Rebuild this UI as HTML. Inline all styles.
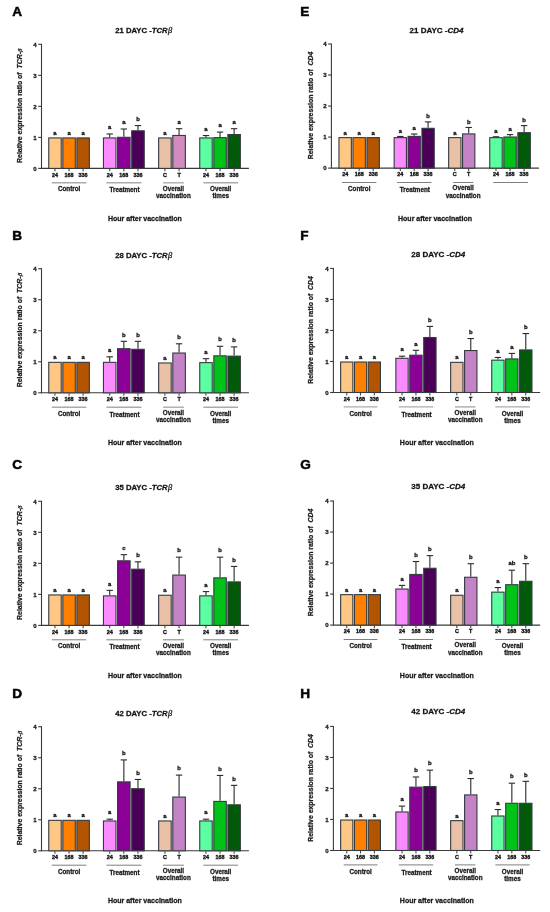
<!DOCTYPE html>
<html><head><meta charset="utf-8">
<style>
html,body{margin:0;padding:0;background:#fff;}
body{width:550px;height:912px;overflow:hidden;}
svg{display:block;font-family:"Liberation Sans", sans-serif;filter:blur(0.4px);}
text{stroke:#151515;stroke-width:0.27px;}
</style></head>
<body>
<svg width="550" height="912" viewBox="0 0 550 912">
<rect width="550" height="912" fill="#fff"/>
<text x="12.3" y="16" font-size="13.6" text-anchor="start" font-weight="bold" font-style="normal" fill="#000" style="stroke:#000;stroke-width:0.5px">A</text>
<text x="143.7" y="33.4" font-size="7.7" text-anchor="middle" font-weight="bold" fill="#111">21 DAYC -<tspan font-style="italic">TCR</tspan><tspan dx="0.4" font-family="Liberation Serif, serif" font-style="italic" font-weight="normal" font-size="8.4">&#946;</tspan></text>
<line x1="41.5" y1="43.82" x2="41.5" y2="168.9" stroke="#3a3a3a" stroke-width="1.1"/>
<line x1="38.2" y1="168.4" x2="41.5" y2="168.4" stroke="#3a3a3a" stroke-width="1.1"/>
<text x="36.7" y="170.6" font-size="6.1" text-anchor="end" font-weight="bold" font-style="normal" fill="#222">0</text>
<line x1="38.2" y1="137.38" x2="41.5" y2="137.38" stroke="#3a3a3a" stroke-width="1.1"/>
<text x="36.7" y="139.58" font-size="6.1" text-anchor="end" font-weight="bold" font-style="normal" fill="#222">1</text>
<line x1="38.2" y1="106.36" x2="41.5" y2="106.36" stroke="#3a3a3a" stroke-width="1.1"/>
<text x="36.7" y="108.56" font-size="6.1" text-anchor="end" font-weight="bold" font-style="normal" fill="#222">2</text>
<line x1="38.2" y1="75.34" x2="41.5" y2="75.34" stroke="#3a3a3a" stroke-width="1.1"/>
<text x="36.7" y="77.54" font-size="6.1" text-anchor="end" font-weight="bold" font-style="normal" fill="#222">3</text>
<line x1="38.2" y1="44.32" x2="41.5" y2="44.32" stroke="#3a3a3a" stroke-width="1.1"/>
<text x="36.7" y="46.52" font-size="6.1" text-anchor="end" font-weight="bold" font-style="normal" fill="#222">4</text>
<text transform="translate(22.4,105.7) rotate(-90)" x="0" y="0" font-size="6.95" text-anchor="middle" font-weight="bold" fill="#1e1e1e">Relative expression ratio of&#160; <tspan font-style="italic">TCR-</tspan><tspan font-family="Liberation Serif, serif" font-style="italic" font-weight="normal">&#946;</tspan></text>
<line x1="41.5" y1="168.4" x2="248.9" y2="168.4" stroke="#3a3a3a" stroke-width="1.1"/>
<rect x="48.75" y="137.93" width="12.47" height="30.47" fill="#FFC784" stroke="#333a40" stroke-width="1.1"/>
<text x="54.98" y="134.88" font-size="5.9" text-anchor="middle" font-weight="bold" font-style="normal" fill="#151515" style="stroke-width:0.3px">a</text>
<line x1="54.98" y1="169" x2="54.98" y2="171.3" stroke="#333" stroke-width="1"/>
<text x="54.98" y="176.6" font-size="5.4" text-anchor="middle" font-weight="bold" font-style="normal" fill="#111" style="stroke:#111;stroke-width:0.34px">24</text>
<rect x="62.82" y="137.93" width="12.47" height="30.47" fill="#FF8000" stroke="#333a40" stroke-width="1.1"/>
<text x="69.05" y="134.88" font-size="5.9" text-anchor="middle" font-weight="bold" font-style="normal" fill="#151515" style="stroke-width:0.3px">a</text>
<line x1="69.05" y1="169" x2="69.05" y2="171.3" stroke="#333" stroke-width="1"/>
<text x="69.05" y="176.6" font-size="5.4" text-anchor="middle" font-weight="bold" font-style="normal" fill="#111" style="stroke:#111;stroke-width:0.34px">168</text>
<rect x="76.88" y="137.93" width="12.47" height="30.47" fill="#B35400" stroke="#333a40" stroke-width="1.1"/>
<text x="83.12" y="134.88" font-size="5.9" text-anchor="middle" font-weight="bold" font-style="normal" fill="#151515" style="stroke-width:0.3px">a</text>
<line x1="83.12" y1="169" x2="83.12" y2="171.3" stroke="#333" stroke-width="1"/>
<text x="83.12" y="176.6" font-size="5.4" text-anchor="middle" font-weight="bold" font-style="normal" fill="#111" style="stroke:#111;stroke-width:0.34px">336</text>
<line x1="51.8" y1="182.8" x2="86.4" y2="182.8" stroke="#ababab" stroke-width="1.4"/>
<text x="69.1" y="191.4" font-size="6.3" text-anchor="middle" font-weight="bold" font-style="normal" fill="#222">Control</text>
<line x1="109.72" y1="137.38" x2="109.72" y2="133.97" stroke="#2a2a2a" stroke-width="1.1"/>
<line x1="106.52" y1="133.97" x2="112.92" y2="133.97" stroke="#2a2a2a" stroke-width="1.1"/>
<rect x="103.45" y="137.93" width="12.53" height="30.47" fill="#F98BFF" stroke="#333a40" stroke-width="1.1"/>
<text x="109.72" y="129.17" font-size="5.9" text-anchor="middle" font-weight="bold" font-style="normal" fill="#151515" style="stroke-width:0.3px">a</text>
<line x1="109.72" y1="169" x2="109.72" y2="171.3" stroke="#333" stroke-width="1"/>
<text x="109.72" y="176.6" font-size="5.4" text-anchor="middle" font-weight="bold" font-style="normal" fill="#111" style="stroke:#111;stroke-width:0.34px">24</text>
<line x1="123.85" y1="136.76" x2="123.85" y2="129" stroke="#2a2a2a" stroke-width="1.1"/>
<line x1="120.65" y1="129" x2="127.05" y2="129" stroke="#2a2a2a" stroke-width="1.1"/>
<rect x="117.58" y="137.31" width="12.53" height="31.09" fill="#8C0098" stroke="#333a40" stroke-width="1.1"/>
<text x="123.85" y="124.2" font-size="5.9" text-anchor="middle" font-weight="bold" font-style="normal" fill="#151515" style="stroke-width:0.3px">a</text>
<line x1="123.85" y1="169" x2="123.85" y2="171.3" stroke="#333" stroke-width="1"/>
<text x="123.85" y="176.6" font-size="5.4" text-anchor="middle" font-weight="bold" font-style="normal" fill="#111" style="stroke:#111;stroke-width:0.34px">168</text>
<line x1="137.98" y1="130.25" x2="137.98" y2="125.59" stroke="#2a2a2a" stroke-width="1.1"/>
<line x1="134.78" y1="125.59" x2="141.18" y2="125.59" stroke="#2a2a2a" stroke-width="1.1"/>
<rect x="131.72" y="130.8" width="12.53" height="37.6" fill="#4B0058" stroke="#333a40" stroke-width="1.1"/>
<text x="137.98" y="120.79" font-size="5.9" text-anchor="middle" font-weight="bold" font-style="normal" fill="#151515" style="stroke-width:0.3px">b</text>
<line x1="137.98" y1="169" x2="137.98" y2="171.3" stroke="#333" stroke-width="1"/>
<text x="137.98" y="176.6" font-size="5.4" text-anchor="middle" font-weight="bold" font-style="normal" fill="#111" style="stroke:#111;stroke-width:0.34px">336</text>
<line x1="106.4" y1="182.8" x2="141.4" y2="182.8" stroke="#ababab" stroke-width="1.4"/>
<text x="124.5" y="192.4" font-size="6.3" text-anchor="middle" font-weight="bold" font-style="normal" fill="#222">Treatment</text>
<rect x="158.65" y="137.93" width="12.55" height="30.47" fill="#E8C1A6" stroke="#333a40" stroke-width="1.1"/>
<text x="164.93" y="134.88" font-size="5.9" text-anchor="middle" font-weight="bold" font-style="normal" fill="#151515" style="stroke-width:0.3px">a</text>
<line x1="164.93" y1="169" x2="164.93" y2="171.3" stroke="#333" stroke-width="1"/>
<text x="164.93" y="176.6" font-size="5.4" text-anchor="middle" font-weight="bold" font-style="normal" fill="#111" style="stroke:#111;stroke-width:0.34px">C</text>
<line x1="179.07" y1="134.9" x2="179.07" y2="128.69" stroke="#2a2a2a" stroke-width="1.1"/>
<line x1="175.88" y1="128.69" x2="182.27" y2="128.69" stroke="#2a2a2a" stroke-width="1.1"/>
<rect x="172.8" y="135.45" width="12.55" height="32.95" fill="#D38ABF" stroke="#333a40" stroke-width="1.1"/>
<text x="179.07" y="123.89" font-size="5.9" text-anchor="middle" font-weight="bold" font-style="normal" fill="#151515" style="stroke-width:0.3px">a</text>
<line x1="179.07" y1="169" x2="179.07" y2="171.3" stroke="#333" stroke-width="1"/>
<text x="179.07" y="176.6" font-size="5.4" text-anchor="middle" font-weight="bold" font-style="normal" fill="#111" style="stroke:#111;stroke-width:0.34px">T</text>
<line x1="163" y1="182.8" x2="183.9" y2="182.8" stroke="#ababab" stroke-width="1.4"/>
<text x="173.45" y="190.6" font-size="6.3" text-anchor="middle" font-weight="bold" font-style="normal" fill="#222">Overall</text>
<text x="173.45" y="197.8" font-size="6.3" text-anchor="middle" font-weight="bold" font-style="normal" fill="#222">vaccination</text>
<line x1="205.98" y1="137.38" x2="205.98" y2="135.52" stroke="#2a2a2a" stroke-width="1.1"/>
<line x1="202.78" y1="135.52" x2="209.18" y2="135.52" stroke="#2a2a2a" stroke-width="1.1"/>
<rect x="199.75" y="137.93" width="12.47" height="30.47" fill="#5CFFA0" stroke="#333a40" stroke-width="1.1"/>
<text x="205.98" y="130.72" font-size="5.9" text-anchor="middle" font-weight="bold" font-style="normal" fill="#151515" style="stroke-width:0.3px">a</text>
<line x1="205.98" y1="169" x2="205.98" y2="171.3" stroke="#333" stroke-width="1"/>
<text x="205.98" y="176.6" font-size="5.4" text-anchor="middle" font-weight="bold" font-style="normal" fill="#111" style="stroke:#111;stroke-width:0.34px">24</text>
<line x1="220.05" y1="137.07" x2="220.05" y2="132.11" stroke="#2a2a2a" stroke-width="1.1"/>
<line x1="216.85" y1="132.11" x2="223.25" y2="132.11" stroke="#2a2a2a" stroke-width="1.1"/>
<rect x="213.82" y="137.62" width="12.47" height="30.78" fill="#00C218" stroke="#333a40" stroke-width="1.1"/>
<text x="220.05" y="127.31" font-size="5.9" text-anchor="middle" font-weight="bold" font-style="normal" fill="#151515" style="stroke-width:0.3px">a</text>
<line x1="220.05" y1="169" x2="220.05" y2="171.3" stroke="#333" stroke-width="1"/>
<text x="220.05" y="176.6" font-size="5.4" text-anchor="middle" font-weight="bold" font-style="normal" fill="#111" style="stroke:#111;stroke-width:0.34px">168</text>
<line x1="234.12" y1="133.97" x2="234.12" y2="128.69" stroke="#2a2a2a" stroke-width="1.1"/>
<line x1="230.92" y1="128.69" x2="237.32" y2="128.69" stroke="#2a2a2a" stroke-width="1.1"/>
<rect x="227.88" y="134.52" width="12.47" height="33.88" fill="#005A0A" stroke="#333a40" stroke-width="1.1"/>
<text x="234.12" y="123.89" font-size="5.9" text-anchor="middle" font-weight="bold" font-style="normal" fill="#151515" style="stroke-width:0.3px">a</text>
<line x1="234.12" y1="169" x2="234.12" y2="171.3" stroke="#333" stroke-width="1"/>
<text x="234.12" y="176.6" font-size="5.4" text-anchor="middle" font-weight="bold" font-style="normal" fill="#111" style="stroke:#111;stroke-width:0.34px">336</text>
<line x1="203.3" y1="182.8" x2="238.1" y2="182.8" stroke="#ababab" stroke-width="1.4"/>
<text x="220.7" y="191.4" font-size="6.3" text-anchor="middle" font-weight="bold" font-style="normal" fill="#222">Overall</text>
<text x="220.7" y="198.4" font-size="6.3" text-anchor="middle" font-weight="bold" font-style="normal" fill="#222">times</text>
<text x="144.9" y="221" font-size="7" text-anchor="middle" font-weight="bold" font-style="normal" fill="#1a1a1a">Hour after vaccination</text>
<text x="12.3" y="240.2" font-size="13.6" text-anchor="start" font-weight="bold" font-style="normal" fill="#000" style="stroke:#000;stroke-width:0.5px">B</text>
<text x="143.7" y="257.8" font-size="7.7" text-anchor="middle" font-weight="bold" fill="#111">28 DAYC -<tspan font-style="italic">TCR</tspan><tspan dx="0.4" font-family="Liberation Serif, serif" font-style="italic" font-weight="normal" font-size="8.4">&#946;</tspan></text>
<line x1="41.5" y1="268.22" x2="41.5" y2="393.3" stroke="#3a3a3a" stroke-width="1.1"/>
<line x1="38.2" y1="392.8" x2="41.5" y2="392.8" stroke="#3a3a3a" stroke-width="1.1"/>
<text x="36.7" y="395" font-size="6.1" text-anchor="end" font-weight="bold" font-style="normal" fill="#222">0</text>
<line x1="38.2" y1="361.78" x2="41.5" y2="361.78" stroke="#3a3a3a" stroke-width="1.1"/>
<text x="36.7" y="363.98" font-size="6.1" text-anchor="end" font-weight="bold" font-style="normal" fill="#222">1</text>
<line x1="38.2" y1="330.76" x2="41.5" y2="330.76" stroke="#3a3a3a" stroke-width="1.1"/>
<text x="36.7" y="332.96" font-size="6.1" text-anchor="end" font-weight="bold" font-style="normal" fill="#222">2</text>
<line x1="38.2" y1="299.74" x2="41.5" y2="299.74" stroke="#3a3a3a" stroke-width="1.1"/>
<text x="36.7" y="301.94" font-size="6.1" text-anchor="end" font-weight="bold" font-style="normal" fill="#222">3</text>
<line x1="38.2" y1="268.72" x2="41.5" y2="268.72" stroke="#3a3a3a" stroke-width="1.1"/>
<text x="36.7" y="270.92" font-size="6.1" text-anchor="end" font-weight="bold" font-style="normal" fill="#222">4</text>
<text transform="translate(22.4,330.1) rotate(-90)" x="0" y="0" font-size="6.95" text-anchor="middle" font-weight="bold" fill="#1e1e1e">Relative expression ratio of&#160; <tspan font-style="italic">TCR-</tspan><tspan font-family="Liberation Serif, serif" font-style="italic" font-weight="normal">&#946;</tspan></text>
<line x1="41.5" y1="392.8" x2="248.9" y2="392.8" stroke="#3a3a3a" stroke-width="1.1"/>
<rect x="48.75" y="362.33" width="12.47" height="30.47" fill="#FFC784" stroke="#333a40" stroke-width="1.1"/>
<text x="54.98" y="359.28" font-size="5.9" text-anchor="middle" font-weight="bold" font-style="normal" fill="#151515" style="stroke-width:0.3px">a</text>
<line x1="54.98" y1="393.4" x2="54.98" y2="395.7" stroke="#333" stroke-width="1"/>
<text x="54.98" y="401" font-size="5.4" text-anchor="middle" font-weight="bold" font-style="normal" fill="#111" style="stroke:#111;stroke-width:0.34px">24</text>
<rect x="62.82" y="362.33" width="12.47" height="30.47" fill="#FF8000" stroke="#333a40" stroke-width="1.1"/>
<text x="69.05" y="359.28" font-size="5.9" text-anchor="middle" font-weight="bold" font-style="normal" fill="#151515" style="stroke-width:0.3px">a</text>
<line x1="69.05" y1="393.4" x2="69.05" y2="395.7" stroke="#333" stroke-width="1"/>
<text x="69.05" y="401" font-size="5.4" text-anchor="middle" font-weight="bold" font-style="normal" fill="#111" style="stroke:#111;stroke-width:0.34px">168</text>
<rect x="76.88" y="362.33" width="12.47" height="30.47" fill="#B35400" stroke="#333a40" stroke-width="1.1"/>
<text x="83.12" y="359.28" font-size="5.9" text-anchor="middle" font-weight="bold" font-style="normal" fill="#151515" style="stroke-width:0.3px">a</text>
<line x1="83.12" y1="393.4" x2="83.12" y2="395.7" stroke="#333" stroke-width="1"/>
<text x="83.12" y="401" font-size="5.4" text-anchor="middle" font-weight="bold" font-style="normal" fill="#111" style="stroke:#111;stroke-width:0.34px">336</text>
<line x1="51.8" y1="407.2" x2="86.4" y2="407.2" stroke="#ababab" stroke-width="1.4"/>
<text x="69.1" y="415.8" font-size="6.3" text-anchor="middle" font-weight="bold" font-style="normal" fill="#222">Control</text>
<line x1="109.72" y1="361.78" x2="109.72" y2="356.82" stroke="#2a2a2a" stroke-width="1.1"/>
<line x1="106.52" y1="356.82" x2="112.92" y2="356.82" stroke="#2a2a2a" stroke-width="1.1"/>
<rect x="103.45" y="362.33" width="12.53" height="30.47" fill="#F98BFF" stroke="#333a40" stroke-width="1.1"/>
<text x="109.72" y="352.02" font-size="5.9" text-anchor="middle" font-weight="bold" font-style="normal" fill="#151515" style="stroke-width:0.3px">a</text>
<line x1="109.72" y1="393.4" x2="109.72" y2="395.7" stroke="#333" stroke-width="1"/>
<text x="109.72" y="401" font-size="5.4" text-anchor="middle" font-weight="bold" font-style="normal" fill="#111" style="stroke:#111;stroke-width:0.34px">24</text>
<line x1="123.85" y1="348.13" x2="123.85" y2="341.31" stroke="#2a2a2a" stroke-width="1.1"/>
<line x1="120.65" y1="341.31" x2="127.05" y2="341.31" stroke="#2a2a2a" stroke-width="1.1"/>
<rect x="117.58" y="348.68" width="12.53" height="44.12" fill="#8C0098" stroke="#333a40" stroke-width="1.1"/>
<text x="123.85" y="336.51" font-size="5.9" text-anchor="middle" font-weight="bold" font-style="normal" fill="#151515" style="stroke-width:0.3px">b</text>
<line x1="123.85" y1="393.4" x2="123.85" y2="395.7" stroke="#333" stroke-width="1"/>
<text x="123.85" y="401" font-size="5.4" text-anchor="middle" font-weight="bold" font-style="normal" fill="#111" style="stroke:#111;stroke-width:0.34px">168</text>
<line x1="137.98" y1="348.75" x2="137.98" y2="341.31" stroke="#2a2a2a" stroke-width="1.1"/>
<line x1="134.78" y1="341.31" x2="141.18" y2="341.31" stroke="#2a2a2a" stroke-width="1.1"/>
<rect x="131.72" y="349.3" width="12.53" height="43.5" fill="#4B0058" stroke="#333a40" stroke-width="1.1"/>
<text x="137.98" y="336.51" font-size="5.9" text-anchor="middle" font-weight="bold" font-style="normal" fill="#151515" style="stroke-width:0.3px">b</text>
<line x1="137.98" y1="393.4" x2="137.98" y2="395.7" stroke="#333" stroke-width="1"/>
<text x="137.98" y="401" font-size="5.4" text-anchor="middle" font-weight="bold" font-style="normal" fill="#111" style="stroke:#111;stroke-width:0.34px">336</text>
<line x1="106.4" y1="407.2" x2="141.4" y2="407.2" stroke="#ababab" stroke-width="1.4"/>
<text x="124.5" y="416.8" font-size="6.3" text-anchor="middle" font-weight="bold" font-style="normal" fill="#222">Treatment</text>
<rect x="158.65" y="362.95" width="12.55" height="29.85" fill="#E8C1A6" stroke="#333a40" stroke-width="1.1"/>
<text x="164.93" y="359.9" font-size="5.9" text-anchor="middle" font-weight="bold" font-style="normal" fill="#151515" style="stroke-width:0.3px">a</text>
<line x1="164.93" y1="393.4" x2="164.93" y2="395.7" stroke="#333" stroke-width="1"/>
<text x="164.93" y="401" font-size="5.4" text-anchor="middle" font-weight="bold" font-style="normal" fill="#111" style="stroke:#111;stroke-width:0.34px">C</text>
<line x1="179.07" y1="352.47" x2="179.07" y2="343.79" stroke="#2a2a2a" stroke-width="1.1"/>
<line x1="175.88" y1="343.79" x2="182.27" y2="343.79" stroke="#2a2a2a" stroke-width="1.1"/>
<rect x="172.8" y="353.02" width="12.55" height="39.78" fill="#C383C6" stroke="#333a40" stroke-width="1.1"/>
<text x="179.07" y="338.99" font-size="5.9" text-anchor="middle" font-weight="bold" font-style="normal" fill="#151515" style="stroke-width:0.3px">b</text>
<line x1="179.07" y1="393.4" x2="179.07" y2="395.7" stroke="#333" stroke-width="1"/>
<text x="179.07" y="401" font-size="5.4" text-anchor="middle" font-weight="bold" font-style="normal" fill="#111" style="stroke:#111;stroke-width:0.34px">T</text>
<line x1="163" y1="407.2" x2="183.9" y2="407.2" stroke="#ababab" stroke-width="1.4"/>
<text x="173.45" y="415" font-size="6.3" text-anchor="middle" font-weight="bold" font-style="normal" fill="#222">Overall</text>
<text x="173.45" y="422.2" font-size="6.3" text-anchor="middle" font-weight="bold" font-style="normal" fill="#222">vaccination</text>
<line x1="205.98" y1="362.09" x2="205.98" y2="358.68" stroke="#2a2a2a" stroke-width="1.1"/>
<line x1="202.78" y1="358.68" x2="209.18" y2="358.68" stroke="#2a2a2a" stroke-width="1.1"/>
<rect x="199.75" y="362.64" width="12.47" height="30.16" fill="#5CFFA0" stroke="#333a40" stroke-width="1.1"/>
<text x="205.98" y="353.88" font-size="5.9" text-anchor="middle" font-weight="bold" font-style="normal" fill="#151515" style="stroke-width:0.3px">a</text>
<line x1="205.98" y1="393.4" x2="205.98" y2="395.7" stroke="#333" stroke-width="1"/>
<text x="205.98" y="401" font-size="5.4" text-anchor="middle" font-weight="bold" font-style="normal" fill="#111" style="stroke:#111;stroke-width:0.34px">24</text>
<line x1="220.05" y1="355.27" x2="220.05" y2="346.27" stroke="#2a2a2a" stroke-width="1.1"/>
<line x1="216.85" y1="346.27" x2="223.25" y2="346.27" stroke="#2a2a2a" stroke-width="1.1"/>
<rect x="213.82" y="355.82" width="12.47" height="36.98" fill="#00C218" stroke="#333a40" stroke-width="1.1"/>
<text x="220.05" y="341.47" font-size="5.9" text-anchor="middle" font-weight="bold" font-style="normal" fill="#151515" style="stroke-width:0.3px">b</text>
<line x1="220.05" y1="393.4" x2="220.05" y2="395.7" stroke="#333" stroke-width="1"/>
<text x="220.05" y="401" font-size="5.4" text-anchor="middle" font-weight="bold" font-style="normal" fill="#111" style="stroke:#111;stroke-width:0.34px">168</text>
<line x1="234.12" y1="355.58" x2="234.12" y2="346.89" stroke="#2a2a2a" stroke-width="1.1"/>
<line x1="230.92" y1="346.89" x2="237.32" y2="346.89" stroke="#2a2a2a" stroke-width="1.1"/>
<rect x="227.88" y="356.13" width="12.47" height="36.67" fill="#005A0A" stroke="#333a40" stroke-width="1.1"/>
<text x="234.12" y="342.09" font-size="5.9" text-anchor="middle" font-weight="bold" font-style="normal" fill="#151515" style="stroke-width:0.3px">b</text>
<line x1="234.12" y1="393.4" x2="234.12" y2="395.7" stroke="#333" stroke-width="1"/>
<text x="234.12" y="401" font-size="5.4" text-anchor="middle" font-weight="bold" font-style="normal" fill="#111" style="stroke:#111;stroke-width:0.34px">336</text>
<line x1="203.3" y1="407.2" x2="238.1" y2="407.2" stroke="#ababab" stroke-width="1.4"/>
<text x="220.7" y="415.8" font-size="6.3" text-anchor="middle" font-weight="bold" font-style="normal" fill="#222">Overall</text>
<text x="220.7" y="422.8" font-size="6.3" text-anchor="middle" font-weight="bold" font-style="normal" fill="#222">times</text>
<text x="144.9" y="445.4" font-size="7" text-anchor="middle" font-weight="bold" font-style="normal" fill="#1a1a1a">Hour after vaccination</text>
<text x="12.3" y="468.7" font-size="13.6" text-anchor="start" font-weight="bold" font-style="normal" fill="#000" style="stroke:#000;stroke-width:0.5px">C</text>
<text x="143.7" y="490.4" font-size="7.7" text-anchor="middle" font-weight="bold" fill="#111">35 DAYC -<tspan font-style="italic">TCR</tspan><tspan dx="0.4" font-family="Liberation Serif, serif" font-style="italic" font-weight="normal" font-size="8.4">&#946;</tspan></text>
<line x1="41.5" y1="500.82" x2="41.5" y2="625.9" stroke="#3a3a3a" stroke-width="1.1"/>
<line x1="38.2" y1="625.4" x2="41.5" y2="625.4" stroke="#3a3a3a" stroke-width="1.1"/>
<text x="36.7" y="627.6" font-size="6.1" text-anchor="end" font-weight="bold" font-style="normal" fill="#222">0</text>
<line x1="38.2" y1="594.38" x2="41.5" y2="594.38" stroke="#3a3a3a" stroke-width="1.1"/>
<text x="36.7" y="596.58" font-size="6.1" text-anchor="end" font-weight="bold" font-style="normal" fill="#222">1</text>
<line x1="38.2" y1="563.36" x2="41.5" y2="563.36" stroke="#3a3a3a" stroke-width="1.1"/>
<text x="36.7" y="565.56" font-size="6.1" text-anchor="end" font-weight="bold" font-style="normal" fill="#222">2</text>
<line x1="38.2" y1="532.34" x2="41.5" y2="532.34" stroke="#3a3a3a" stroke-width="1.1"/>
<text x="36.7" y="534.54" font-size="6.1" text-anchor="end" font-weight="bold" font-style="normal" fill="#222">3</text>
<line x1="38.2" y1="501.32" x2="41.5" y2="501.32" stroke="#3a3a3a" stroke-width="1.1"/>
<text x="36.7" y="503.52" font-size="6.1" text-anchor="end" font-weight="bold" font-style="normal" fill="#222">4</text>
<text transform="translate(22.4,562.7) rotate(-90)" x="0" y="0" font-size="6.95" text-anchor="middle" font-weight="bold" fill="#1e1e1e">Relative expression ratio of&#160; <tspan font-style="italic">TCR-</tspan><tspan font-family="Liberation Serif, serif" font-style="italic" font-weight="normal">&#946;</tspan></text>
<line x1="41.5" y1="625.4" x2="248.9" y2="625.4" stroke="#3a3a3a" stroke-width="1.1"/>
<rect x="48.75" y="594.93" width="12.47" height="30.47" fill="#FFC784" stroke="#333a40" stroke-width="1.1"/>
<text x="54.98" y="591.88" font-size="5.9" text-anchor="middle" font-weight="bold" font-style="normal" fill="#151515" style="stroke-width:0.3px">a</text>
<line x1="54.98" y1="626" x2="54.98" y2="628.3" stroke="#333" stroke-width="1"/>
<text x="54.98" y="633.6" font-size="5.4" text-anchor="middle" font-weight="bold" font-style="normal" fill="#111" style="stroke:#111;stroke-width:0.34px">24</text>
<rect x="62.82" y="594.93" width="12.47" height="30.47" fill="#FF8000" stroke="#333a40" stroke-width="1.1"/>
<text x="69.05" y="591.88" font-size="5.9" text-anchor="middle" font-weight="bold" font-style="normal" fill="#151515" style="stroke-width:0.3px">a</text>
<line x1="69.05" y1="626" x2="69.05" y2="628.3" stroke="#333" stroke-width="1"/>
<text x="69.05" y="633.6" font-size="5.4" text-anchor="middle" font-weight="bold" font-style="normal" fill="#111" style="stroke:#111;stroke-width:0.34px">168</text>
<rect x="76.88" y="594.93" width="12.47" height="30.47" fill="#B35400" stroke="#333a40" stroke-width="1.1"/>
<text x="83.12" y="591.88" font-size="5.9" text-anchor="middle" font-weight="bold" font-style="normal" fill="#151515" style="stroke-width:0.3px">a</text>
<line x1="83.12" y1="626" x2="83.12" y2="628.3" stroke="#333" stroke-width="1"/>
<text x="83.12" y="633.6" font-size="5.4" text-anchor="middle" font-weight="bold" font-style="normal" fill="#111" style="stroke:#111;stroke-width:0.34px">336</text>
<line x1="51.8" y1="639.8" x2="86.4" y2="639.8" stroke="#707070" stroke-width="0.9"/>
<text x="69.1" y="648.4" font-size="6.3" text-anchor="middle" font-weight="bold" font-style="normal" fill="#222">Control</text>
<line x1="109.72" y1="595.31" x2="109.72" y2="590.35" stroke="#2a2a2a" stroke-width="1.1"/>
<line x1="106.52" y1="590.35" x2="112.92" y2="590.35" stroke="#2a2a2a" stroke-width="1.1"/>
<rect x="103.45" y="595.86" width="12.53" height="29.54" fill="#F98BFF" stroke="#333a40" stroke-width="1.1"/>
<text x="109.72" y="585.55" font-size="5.9" text-anchor="middle" font-weight="bold" font-style="normal" fill="#151515" style="stroke-width:0.3px">a</text>
<line x1="109.72" y1="626" x2="109.72" y2="628.3" stroke="#333" stroke-width="1"/>
<text x="109.72" y="633.6" font-size="5.4" text-anchor="middle" font-weight="bold" font-style="normal" fill="#111" style="stroke:#111;stroke-width:0.34px">24</text>
<line x1="123.85" y1="560.26" x2="123.85" y2="554.67" stroke="#2a2a2a" stroke-width="1.1"/>
<line x1="120.65" y1="554.67" x2="127.05" y2="554.67" stroke="#2a2a2a" stroke-width="1.1"/>
<rect x="117.58" y="560.81" width="12.53" height="64.59" fill="#8C0098" stroke="#333a40" stroke-width="1.1"/>
<text x="123.85" y="549.87" font-size="5.9" text-anchor="middle" font-weight="bold" font-style="normal" fill="#151515" style="stroke-width:0.3px">c</text>
<line x1="123.85" y1="626" x2="123.85" y2="628.3" stroke="#333" stroke-width="1"/>
<text x="123.85" y="633.6" font-size="5.4" text-anchor="middle" font-weight="bold" font-style="normal" fill="#111" style="stroke:#111;stroke-width:0.34px">168</text>
<line x1="137.98" y1="568.63" x2="137.98" y2="561.81" stroke="#2a2a2a" stroke-width="1.1"/>
<line x1="134.78" y1="561.81" x2="141.18" y2="561.81" stroke="#2a2a2a" stroke-width="1.1"/>
<rect x="131.72" y="569.18" width="12.53" height="56.22" fill="#4B0058" stroke="#333a40" stroke-width="1.1"/>
<text x="137.98" y="557.01" font-size="5.9" text-anchor="middle" font-weight="bold" font-style="normal" fill="#151515" style="stroke-width:0.3px">b</text>
<line x1="137.98" y1="626" x2="137.98" y2="628.3" stroke="#333" stroke-width="1"/>
<text x="137.98" y="633.6" font-size="5.4" text-anchor="middle" font-weight="bold" font-style="normal" fill="#111" style="stroke:#111;stroke-width:0.34px">336</text>
<line x1="106.4" y1="639.8" x2="141.4" y2="639.8" stroke="#707070" stroke-width="0.9"/>
<text x="124.5" y="649.4" font-size="6.3" text-anchor="middle" font-weight="bold" font-style="normal" fill="#222">Treatment</text>
<rect x="158.65" y="595.24" width="12.55" height="30.16" fill="#E8C1A6" stroke="#333a40" stroke-width="1.1"/>
<text x="164.93" y="592.19" font-size="5.9" text-anchor="middle" font-weight="bold" font-style="normal" fill="#151515" style="stroke-width:0.3px">a</text>
<line x1="164.93" y1="626" x2="164.93" y2="628.3" stroke="#333" stroke-width="1"/>
<text x="164.93" y="633.6" font-size="5.4" text-anchor="middle" font-weight="bold" font-style="normal" fill="#111" style="stroke:#111;stroke-width:0.34px">C</text>
<line x1="179.07" y1="574.53" x2="179.07" y2="557.16" stroke="#2a2a2a" stroke-width="1.1"/>
<line x1="175.88" y1="557.16" x2="182.27" y2="557.16" stroke="#2a2a2a" stroke-width="1.1"/>
<rect x="172.8" y="575.08" width="12.55" height="50.32" fill="#C383C6" stroke="#333a40" stroke-width="1.1"/>
<text x="179.07" y="552.36" font-size="5.9" text-anchor="middle" font-weight="bold" font-style="normal" fill="#151515" style="stroke-width:0.3px">b</text>
<line x1="179.07" y1="626" x2="179.07" y2="628.3" stroke="#333" stroke-width="1"/>
<text x="179.07" y="633.6" font-size="5.4" text-anchor="middle" font-weight="bold" font-style="normal" fill="#111" style="stroke:#111;stroke-width:0.34px">T</text>
<line x1="163" y1="639.8" x2="183.9" y2="639.8" stroke="#707070" stroke-width="0.9"/>
<text x="173.45" y="647.6" font-size="6.3" text-anchor="middle" font-weight="bold" font-style="normal" fill="#222">Overall</text>
<text x="173.45" y="654.8" font-size="6.3" text-anchor="middle" font-weight="bold" font-style="normal" fill="#222">vaccination</text>
<line x1="205.98" y1="595.31" x2="205.98" y2="591.59" stroke="#2a2a2a" stroke-width="1.1"/>
<line x1="202.78" y1="591.59" x2="209.18" y2="591.59" stroke="#2a2a2a" stroke-width="1.1"/>
<rect x="199.75" y="595.86" width="12.47" height="29.54" fill="#5CFFA0" stroke="#333a40" stroke-width="1.1"/>
<text x="205.98" y="586.79" font-size="5.9" text-anchor="middle" font-weight="bold" font-style="normal" fill="#151515" style="stroke-width:0.3px">a</text>
<line x1="205.98" y1="626" x2="205.98" y2="628.3" stroke="#333" stroke-width="1"/>
<text x="205.98" y="633.6" font-size="5.4" text-anchor="middle" font-weight="bold" font-style="normal" fill="#111" style="stroke:#111;stroke-width:0.34px">24</text>
<line x1="220.05" y1="577.32" x2="220.05" y2="557.16" stroke="#2a2a2a" stroke-width="1.1"/>
<line x1="216.85" y1="557.16" x2="223.25" y2="557.16" stroke="#2a2a2a" stroke-width="1.1"/>
<rect x="213.82" y="577.87" width="12.47" height="47.53" fill="#00C218" stroke="#333a40" stroke-width="1.1"/>
<text x="220.05" y="552.36" font-size="5.9" text-anchor="middle" font-weight="bold" font-style="normal" fill="#151515" style="stroke-width:0.3px">b</text>
<line x1="220.05" y1="626" x2="220.05" y2="628.3" stroke="#333" stroke-width="1"/>
<text x="220.05" y="633.6" font-size="5.4" text-anchor="middle" font-weight="bold" font-style="normal" fill="#111" style="stroke:#111;stroke-width:0.34px">168</text>
<line x1="234.12" y1="581.35" x2="234.12" y2="566.46" stroke="#2a2a2a" stroke-width="1.1"/>
<line x1="230.92" y1="566.46" x2="237.32" y2="566.46" stroke="#2a2a2a" stroke-width="1.1"/>
<rect x="227.88" y="581.9" width="12.47" height="43.5" fill="#005A0A" stroke="#333a40" stroke-width="1.1"/>
<text x="234.12" y="561.66" font-size="5.9" text-anchor="middle" font-weight="bold" font-style="normal" fill="#151515" style="stroke-width:0.3px">b</text>
<line x1="234.12" y1="626" x2="234.12" y2="628.3" stroke="#333" stroke-width="1"/>
<text x="234.12" y="633.6" font-size="5.4" text-anchor="middle" font-weight="bold" font-style="normal" fill="#111" style="stroke:#111;stroke-width:0.34px">336</text>
<line x1="203.3" y1="639.8" x2="238.1" y2="639.8" stroke="#707070" stroke-width="0.9"/>
<text x="220.7" y="648.4" font-size="6.3" text-anchor="middle" font-weight="bold" font-style="normal" fill="#222">Overall</text>
<text x="220.7" y="655.4" font-size="6.3" text-anchor="middle" font-weight="bold" font-style="normal" fill="#222">times</text>
<text x="144.9" y="678" font-size="7" text-anchor="middle" font-weight="bold" font-style="normal" fill="#1a1a1a">Hour after vaccination</text>
<text x="12.3" y="698.4" font-size="13.6" text-anchor="start" font-weight="bold" font-style="normal" fill="#000" style="stroke:#000;stroke-width:0.5px">D</text>
<text x="143.7" y="715.8" font-size="7.7" text-anchor="middle" font-weight="bold" fill="#111">42 DAYC -<tspan font-style="italic">TCR</tspan><tspan dx="0.4" font-family="Liberation Serif, serif" font-style="italic" font-weight="normal" font-size="8.4">&#946;</tspan></text>
<line x1="41.5" y1="726.22" x2="41.5" y2="851.3" stroke="#3a3a3a" stroke-width="1.1"/>
<line x1="38.2" y1="850.8" x2="41.5" y2="850.8" stroke="#3a3a3a" stroke-width="1.1"/>
<text x="36.7" y="853" font-size="6.1" text-anchor="end" font-weight="bold" font-style="normal" fill="#222">0</text>
<line x1="38.2" y1="819.78" x2="41.5" y2="819.78" stroke="#3a3a3a" stroke-width="1.1"/>
<text x="36.7" y="821.98" font-size="6.1" text-anchor="end" font-weight="bold" font-style="normal" fill="#222">1</text>
<line x1="38.2" y1="788.76" x2="41.5" y2="788.76" stroke="#3a3a3a" stroke-width="1.1"/>
<text x="36.7" y="790.96" font-size="6.1" text-anchor="end" font-weight="bold" font-style="normal" fill="#222">2</text>
<line x1="38.2" y1="757.74" x2="41.5" y2="757.74" stroke="#3a3a3a" stroke-width="1.1"/>
<text x="36.7" y="759.94" font-size="6.1" text-anchor="end" font-weight="bold" font-style="normal" fill="#222">3</text>
<line x1="38.2" y1="726.72" x2="41.5" y2="726.72" stroke="#3a3a3a" stroke-width="1.1"/>
<text x="36.7" y="728.92" font-size="6.1" text-anchor="end" font-weight="bold" font-style="normal" fill="#222">4</text>
<text transform="translate(22.4,788.1) rotate(-90)" x="0" y="0" font-size="6.95" text-anchor="middle" font-weight="bold" fill="#1e1e1e">Relative expression ratio of&#160; <tspan font-style="italic">TCR-</tspan><tspan font-family="Liberation Serif, serif" font-style="italic" font-weight="normal">&#946;</tspan></text>
<line x1="41.5" y1="850.8" x2="248.9" y2="850.8" stroke="#3a3a3a" stroke-width="1.1"/>
<rect x="48.75" y="820.33" width="12.47" height="30.47" fill="#FFC784" stroke="#333a40" stroke-width="1.1"/>
<text x="54.98" y="817.28" font-size="5.9" text-anchor="middle" font-weight="bold" font-style="normal" fill="#151515" style="stroke-width:0.3px">a</text>
<line x1="54.98" y1="851.4" x2="54.98" y2="853.7" stroke="#333" stroke-width="1"/>
<text x="54.98" y="859" font-size="5.4" text-anchor="middle" font-weight="bold" font-style="normal" fill="#111" style="stroke:#111;stroke-width:0.34px">24</text>
<rect x="62.82" y="820.33" width="12.47" height="30.47" fill="#FF8000" stroke="#333a40" stroke-width="1.1"/>
<text x="69.05" y="817.28" font-size="5.9" text-anchor="middle" font-weight="bold" font-style="normal" fill="#151515" style="stroke-width:0.3px">a</text>
<line x1="69.05" y1="851.4" x2="69.05" y2="853.7" stroke="#333" stroke-width="1"/>
<text x="69.05" y="859" font-size="5.4" text-anchor="middle" font-weight="bold" font-style="normal" fill="#111" style="stroke:#111;stroke-width:0.34px">168</text>
<rect x="76.88" y="820.33" width="12.47" height="30.47" fill="#B35400" stroke="#333a40" stroke-width="1.1"/>
<text x="83.12" y="817.28" font-size="5.9" text-anchor="middle" font-weight="bold" font-style="normal" fill="#151515" style="stroke-width:0.3px">a</text>
<line x1="83.12" y1="851.4" x2="83.12" y2="853.7" stroke="#333" stroke-width="1"/>
<text x="83.12" y="859" font-size="5.4" text-anchor="middle" font-weight="bold" font-style="normal" fill="#111" style="stroke:#111;stroke-width:0.34px">336</text>
<line x1="51.8" y1="865.2" x2="86.4" y2="865.2" stroke="#707070" stroke-width="0.9"/>
<text x="69.1" y="873.8" font-size="6.3" text-anchor="middle" font-weight="bold" font-style="normal" fill="#222">Control</text>
<line x1="109.72" y1="820.4" x2="109.72" y2="819.16" stroke="#2a2a2a" stroke-width="1.1"/>
<line x1="106.52" y1="819.16" x2="112.92" y2="819.16" stroke="#2a2a2a" stroke-width="1.1"/>
<rect x="103.45" y="820.95" width="12.53" height="29.85" fill="#F98BFF" stroke="#333a40" stroke-width="1.1"/>
<text x="109.72" y="814.36" font-size="5.9" text-anchor="middle" font-weight="bold" font-style="normal" fill="#151515" style="stroke-width:0.3px">a</text>
<line x1="109.72" y1="851.4" x2="109.72" y2="853.7" stroke="#333" stroke-width="1"/>
<text x="109.72" y="859" font-size="5.4" text-anchor="middle" font-weight="bold" font-style="normal" fill="#111" style="stroke:#111;stroke-width:0.34px">24</text>
<line x1="123.85" y1="781.32" x2="123.85" y2="759.91" stroke="#2a2a2a" stroke-width="1.1"/>
<line x1="120.65" y1="759.91" x2="127.05" y2="759.91" stroke="#2a2a2a" stroke-width="1.1"/>
<rect x="117.58" y="781.87" width="12.53" height="68.93" fill="#8C0098" stroke="#333a40" stroke-width="1.1"/>
<text x="123.85" y="755.11" font-size="5.9" text-anchor="middle" font-weight="bold" font-style="normal" fill="#151515" style="stroke-width:0.3px">b</text>
<line x1="123.85" y1="851.4" x2="123.85" y2="853.7" stroke="#333" stroke-width="1"/>
<text x="123.85" y="859" font-size="5.4" text-anchor="middle" font-weight="bold" font-style="normal" fill="#111" style="stroke:#111;stroke-width:0.34px">168</text>
<line x1="137.98" y1="788.14" x2="137.98" y2="779.45" stroke="#2a2a2a" stroke-width="1.1"/>
<line x1="134.78" y1="779.45" x2="141.18" y2="779.45" stroke="#2a2a2a" stroke-width="1.1"/>
<rect x="131.72" y="788.69" width="12.53" height="62.11" fill="#4B0058" stroke="#333a40" stroke-width="1.1"/>
<text x="137.98" y="774.65" font-size="5.9" text-anchor="middle" font-weight="bold" font-style="normal" fill="#151515" style="stroke-width:0.3px">b</text>
<line x1="137.98" y1="851.4" x2="137.98" y2="853.7" stroke="#333" stroke-width="1"/>
<text x="137.98" y="859" font-size="5.4" text-anchor="middle" font-weight="bold" font-style="normal" fill="#111" style="stroke:#111;stroke-width:0.34px">336</text>
<line x1="106.4" y1="865.2" x2="141.4" y2="865.2" stroke="#707070" stroke-width="0.9"/>
<text x="124.5" y="874.8" font-size="6.3" text-anchor="middle" font-weight="bold" font-style="normal" fill="#222">Treatment</text>
<rect x="158.65" y="820.95" width="12.55" height="29.85" fill="#E8C1A6" stroke="#333a40" stroke-width="1.1"/>
<text x="164.93" y="817.9" font-size="5.9" text-anchor="middle" font-weight="bold" font-style="normal" fill="#151515" style="stroke-width:0.3px">a</text>
<line x1="164.93" y1="851.4" x2="164.93" y2="853.7" stroke="#333" stroke-width="1"/>
<text x="164.93" y="859" font-size="5.4" text-anchor="middle" font-weight="bold" font-style="normal" fill="#111" style="stroke:#111;stroke-width:0.34px">C</text>
<line x1="179.07" y1="796.51" x2="179.07" y2="775.11" stroke="#2a2a2a" stroke-width="1.1"/>
<line x1="175.88" y1="775.11" x2="182.27" y2="775.11" stroke="#2a2a2a" stroke-width="1.1"/>
<rect x="172.8" y="797.06" width="12.55" height="53.73" fill="#C383C6" stroke="#333a40" stroke-width="1.1"/>
<text x="179.07" y="770.31" font-size="5.9" text-anchor="middle" font-weight="bold" font-style="normal" fill="#151515" style="stroke-width:0.3px">b</text>
<line x1="179.07" y1="851.4" x2="179.07" y2="853.7" stroke="#333" stroke-width="1"/>
<text x="179.07" y="859" font-size="5.4" text-anchor="middle" font-weight="bold" font-style="normal" fill="#111" style="stroke:#111;stroke-width:0.34px">T</text>
<line x1="163" y1="865.2" x2="183.9" y2="865.2" stroke="#707070" stroke-width="0.9"/>
<text x="173.45" y="873" font-size="6.3" text-anchor="middle" font-weight="bold" font-style="normal" fill="#222">Overall</text>
<text x="173.45" y="880.2" font-size="6.3" text-anchor="middle" font-weight="bold" font-style="normal" fill="#222">vaccination</text>
<line x1="205.98" y1="820.4" x2="205.98" y2="819.16" stroke="#2a2a2a" stroke-width="1.1"/>
<line x1="202.78" y1="819.16" x2="209.18" y2="819.16" stroke="#2a2a2a" stroke-width="1.1"/>
<rect x="199.75" y="820.95" width="12.47" height="29.85" fill="#5CFFA0" stroke="#333a40" stroke-width="1.1"/>
<text x="205.98" y="814.36" font-size="5.9" text-anchor="middle" font-weight="bold" font-style="normal" fill="#151515" style="stroke-width:0.3px">a</text>
<line x1="205.98" y1="851.4" x2="205.98" y2="853.7" stroke="#333" stroke-width="1"/>
<text x="205.98" y="859" font-size="5.4" text-anchor="middle" font-weight="bold" font-style="normal" fill="#111" style="stroke:#111;stroke-width:0.34px">24</text>
<line x1="220.05" y1="800.86" x2="220.05" y2="775.42" stroke="#2a2a2a" stroke-width="1.1"/>
<line x1="216.85" y1="775.42" x2="223.25" y2="775.42" stroke="#2a2a2a" stroke-width="1.1"/>
<rect x="213.82" y="801.41" width="12.47" height="49.39" fill="#00C218" stroke="#333a40" stroke-width="1.1"/>
<text x="220.05" y="770.62" font-size="5.9" text-anchor="middle" font-weight="bold" font-style="normal" fill="#151515" style="stroke-width:0.3px">b</text>
<line x1="220.05" y1="851.4" x2="220.05" y2="853.7" stroke="#333" stroke-width="1"/>
<text x="220.05" y="859" font-size="5.4" text-anchor="middle" font-weight="bold" font-style="normal" fill="#111" style="stroke:#111;stroke-width:0.34px">168</text>
<line x1="234.12" y1="804.27" x2="234.12" y2="785.35" stroke="#2a2a2a" stroke-width="1.1"/>
<line x1="230.92" y1="785.35" x2="237.32" y2="785.35" stroke="#2a2a2a" stroke-width="1.1"/>
<rect x="227.88" y="804.82" width="12.47" height="45.98" fill="#005A0A" stroke="#333a40" stroke-width="1.1"/>
<text x="234.12" y="780.55" font-size="5.9" text-anchor="middle" font-weight="bold" font-style="normal" fill="#151515" style="stroke-width:0.3px">b</text>
<line x1="234.12" y1="851.4" x2="234.12" y2="853.7" stroke="#333" stroke-width="1"/>
<text x="234.12" y="859" font-size="5.4" text-anchor="middle" font-weight="bold" font-style="normal" fill="#111" style="stroke:#111;stroke-width:0.34px">336</text>
<line x1="203.3" y1="865.2" x2="238.1" y2="865.2" stroke="#707070" stroke-width="0.9"/>
<text x="220.7" y="873.8" font-size="6.3" text-anchor="middle" font-weight="bold" font-style="normal" fill="#222">Overall</text>
<text x="220.7" y="880.8" font-size="6.3" text-anchor="middle" font-weight="bold" font-style="normal" fill="#222">times</text>
<text x="144.9" y="903.4" font-size="7" text-anchor="middle" font-weight="bold" font-style="normal" fill="#1a1a1a">Hour after vaccination</text>
<text x="300.3" y="16" font-size="13.6" text-anchor="start" font-weight="bold" font-style="normal" fill="#000" style="stroke:#000;stroke-width:0.5px">E</text>
<text x="436.5" y="33.2" font-size="8.0" text-anchor="middle" font-weight="bold" fill="#111">21 DAYC -<tspan font-style="italic">CD4</tspan></text>
<line x1="331.4" y1="43.52" x2="331.4" y2="168.6" stroke="#3a3a3a" stroke-width="1.1"/>
<line x1="328.1" y1="168.1" x2="331.4" y2="168.1" stroke="#3a3a3a" stroke-width="1.1"/>
<text x="326.6" y="170.3" font-size="6.1" text-anchor="end" font-weight="bold" font-style="normal" fill="#222">0</text>
<line x1="328.1" y1="137.08" x2="331.4" y2="137.08" stroke="#3a3a3a" stroke-width="1.1"/>
<text x="326.6" y="139.28" font-size="6.1" text-anchor="end" font-weight="bold" font-style="normal" fill="#222">1</text>
<line x1="328.1" y1="106.06" x2="331.4" y2="106.06" stroke="#3a3a3a" stroke-width="1.1"/>
<text x="326.6" y="108.26" font-size="6.1" text-anchor="end" font-weight="bold" font-style="normal" fill="#222">2</text>
<line x1="328.1" y1="75.04" x2="331.4" y2="75.04" stroke="#3a3a3a" stroke-width="1.1"/>
<text x="326.6" y="77.24" font-size="6.1" text-anchor="end" font-weight="bold" font-style="normal" fill="#222">3</text>
<line x1="328.1" y1="44.02" x2="331.4" y2="44.02" stroke="#3a3a3a" stroke-width="1.1"/>
<text x="326.6" y="46.22" font-size="6.1" text-anchor="end" font-weight="bold" font-style="normal" fill="#222">4</text>
<text transform="translate(313,105.5) rotate(-90)" x="0" y="0" font-size="6.9" text-anchor="middle" font-weight="bold" fill="#1e1e1e">Relative expression ratio of&#160; <tspan font-style="italic">CD4</tspan></text>
<line x1="331.4" y1="168.1" x2="538.9" y2="168.1" stroke="#3a3a3a" stroke-width="1.1"/>
<rect x="338.95" y="137.63" width="12.4" height="30.47" fill="#FFC784" stroke="#333a40" stroke-width="1.1"/>
<text x="345.15" y="134.58" font-size="5.9" text-anchor="middle" font-weight="bold" font-style="normal" fill="#151515" style="stroke-width:0.3px">a</text>
<line x1="345.15" y1="168.7" x2="345.15" y2="171" stroke="#333" stroke-width="1"/>
<text x="345.15" y="176.3" font-size="5.4" text-anchor="middle" font-weight="bold" font-style="normal" fill="#111" style="stroke:#111;stroke-width:0.34px">24</text>
<rect x="352.95" y="137.63" width="12.4" height="30.47" fill="#FF8000" stroke="#333a40" stroke-width="1.1"/>
<text x="359.15" y="134.58" font-size="5.9" text-anchor="middle" font-weight="bold" font-style="normal" fill="#151515" style="stroke-width:0.3px">a</text>
<line x1="359.15" y1="168.7" x2="359.15" y2="171" stroke="#333" stroke-width="1"/>
<text x="359.15" y="176.3" font-size="5.4" text-anchor="middle" font-weight="bold" font-style="normal" fill="#111" style="stroke:#111;stroke-width:0.34px">168</text>
<rect x="366.95" y="137.63" width="12.4" height="30.47" fill="#B35400" stroke="#333a40" stroke-width="1.1"/>
<text x="373.15" y="134.58" font-size="5.9" text-anchor="middle" font-weight="bold" font-style="normal" fill="#151515" style="stroke-width:0.3px">a</text>
<line x1="373.15" y1="168.7" x2="373.15" y2="171" stroke="#333" stroke-width="1"/>
<text x="373.15" y="176.3" font-size="5.4" text-anchor="middle" font-weight="bold" font-style="normal" fill="#111" style="stroke:#111;stroke-width:0.34px">336</text>
<line x1="342" y1="182.5" x2="376.4" y2="182.5" stroke="#707070" stroke-width="0.9"/>
<text x="359.2" y="191.1" font-size="6.3" text-anchor="middle" font-weight="bold" font-style="normal" fill="#222">Control</text>
<line x1="400.3" y1="137.08" x2="400.3" y2="136.46" stroke="#2a2a2a" stroke-width="1.1"/>
<line x1="397.1" y1="136.46" x2="403.5" y2="136.46" stroke="#2a2a2a" stroke-width="1.1"/>
<rect x="394.15" y="137.63" width="12.3" height="30.47" fill="#F98BFF" stroke="#333a40" stroke-width="1.1"/>
<text x="400.3" y="132.76" font-size="5.9" text-anchor="middle" font-weight="bold" font-style="normal" fill="#151515" style="stroke-width:0.3px">a</text>
<line x1="400.3" y1="168.7" x2="400.3" y2="171" stroke="#333" stroke-width="1"/>
<text x="400.3" y="176.3" font-size="5.4" text-anchor="middle" font-weight="bold" font-style="normal" fill="#111" style="stroke:#111;stroke-width:0.34px">24</text>
<line x1="414.2" y1="135.84" x2="414.2" y2="133.98" stroke="#2a2a2a" stroke-width="1.1"/>
<line x1="411" y1="133.98" x2="417.4" y2="133.98" stroke="#2a2a2a" stroke-width="1.1"/>
<rect x="408.05" y="136.39" width="12.3" height="31.71" fill="#8C0098" stroke="#333a40" stroke-width="1.1"/>
<text x="414.2" y="130.28" font-size="5.9" text-anchor="middle" font-weight="bold" font-style="normal" fill="#151515" style="stroke-width:0.3px">a</text>
<line x1="414.2" y1="168.7" x2="414.2" y2="171" stroke="#333" stroke-width="1"/>
<text x="414.2" y="176.3" font-size="5.4" text-anchor="middle" font-weight="bold" font-style="normal" fill="#111" style="stroke:#111;stroke-width:0.34px">168</text>
<line x1="428.1" y1="127.77" x2="428.1" y2="121.88" stroke="#2a2a2a" stroke-width="1.1"/>
<line x1="424.9" y1="121.88" x2="431.3" y2="121.88" stroke="#2a2a2a" stroke-width="1.1"/>
<rect x="421.95" y="128.32" width="12.3" height="39.78" fill="#4B0058" stroke="#333a40" stroke-width="1.1"/>
<text x="428.1" y="118.18" font-size="5.9" text-anchor="middle" font-weight="bold" font-style="normal" fill="#151515" style="stroke-width:0.3px">b</text>
<line x1="428.1" y1="168.7" x2="428.1" y2="171" stroke="#333" stroke-width="1"/>
<text x="428.1" y="176.3" font-size="5.4" text-anchor="middle" font-weight="bold" font-style="normal" fill="#111" style="stroke:#111;stroke-width:0.34px">336</text>
<line x1="397.1" y1="182.5" x2="431.4" y2="182.5" stroke="#707070" stroke-width="0.9"/>
<text x="414.85" y="192.1" font-size="6.3" text-anchor="middle" font-weight="bold" font-style="normal" fill="#222">Treatment</text>
<rect x="448.65" y="137.63" width="12.3" height="30.47" fill="#E8C1A6" stroke="#333a40" stroke-width="1.1"/>
<text x="454.8" y="134.58" font-size="5.9" text-anchor="middle" font-weight="bold" font-style="normal" fill="#151515" style="stroke-width:0.3px">a</text>
<line x1="454.8" y1="168.7" x2="454.8" y2="171" stroke="#333" stroke-width="1"/>
<text x="454.8" y="176.3" font-size="5.4" text-anchor="middle" font-weight="bold" font-style="normal" fill="#111" style="stroke:#111;stroke-width:0.34px">C</text>
<line x1="468.7" y1="133.36" x2="468.7" y2="127.46" stroke="#2a2a2a" stroke-width="1.1"/>
<line x1="465.5" y1="127.46" x2="471.9" y2="127.46" stroke="#2a2a2a" stroke-width="1.1"/>
<rect x="462.55" y="133.91" width="12.3" height="34.19" fill="#C383C6" stroke="#333a40" stroke-width="1.1"/>
<text x="468.7" y="123.76" font-size="5.9" text-anchor="middle" font-weight="bold" font-style="normal" fill="#151515" style="stroke-width:0.3px">b</text>
<line x1="468.7" y1="168.7" x2="468.7" y2="171" stroke="#333" stroke-width="1"/>
<text x="468.7" y="176.3" font-size="5.4" text-anchor="middle" font-weight="bold" font-style="normal" fill="#111" style="stroke:#111;stroke-width:0.34px">T</text>
<line x1="453" y1="182.5" x2="473.4" y2="182.5" stroke="#707070" stroke-width="0.9"/>
<text x="463.2" y="190.3" font-size="6.3" text-anchor="middle" font-weight="bold" font-style="normal" fill="#222">Overall</text>
<text x="463.2" y="197.5" font-size="6.3" text-anchor="middle" font-weight="bold" font-style="normal" fill="#222">vaccination</text>
<line x1="495.98" y1="137.08" x2="495.98" y2="136.77" stroke="#2a2a2a" stroke-width="1.1"/>
<line x1="492.78" y1="136.77" x2="499.18" y2="136.77" stroke="#2a2a2a" stroke-width="1.1"/>
<rect x="489.75" y="137.63" width="12.47" height="30.47" fill="#5CFFA0" stroke="#333a40" stroke-width="1.1"/>
<text x="495.98" y="133.07" font-size="5.9" text-anchor="middle" font-weight="bold" font-style="normal" fill="#151515" style="stroke-width:0.3px">a</text>
<line x1="495.98" y1="168.7" x2="495.98" y2="171" stroke="#333" stroke-width="1"/>
<text x="495.98" y="176.3" font-size="5.4" text-anchor="middle" font-weight="bold" font-style="normal" fill="#111" style="stroke:#111;stroke-width:0.34px">24</text>
<line x1="510.05" y1="136.46" x2="510.05" y2="134.6" stroke="#2a2a2a" stroke-width="1.1"/>
<line x1="506.85" y1="134.6" x2="513.25" y2="134.6" stroke="#2a2a2a" stroke-width="1.1"/>
<rect x="503.82" y="137.01" width="12.47" height="31.09" fill="#00C218" stroke="#333a40" stroke-width="1.1"/>
<text x="510.05" y="130.9" font-size="5.9" text-anchor="middle" font-weight="bold" font-style="normal" fill="#151515" style="stroke-width:0.3px">a</text>
<line x1="510.05" y1="168.7" x2="510.05" y2="171" stroke="#333" stroke-width="1"/>
<text x="510.05" y="176.3" font-size="5.4" text-anchor="middle" font-weight="bold" font-style="normal" fill="#111" style="stroke:#111;stroke-width:0.34px">168</text>
<line x1="524.12" y1="132.12" x2="524.12" y2="125.6" stroke="#2a2a2a" stroke-width="1.1"/>
<line x1="520.92" y1="125.6" x2="527.32" y2="125.6" stroke="#2a2a2a" stroke-width="1.1"/>
<rect x="517.88" y="132.67" width="12.47" height="35.43" fill="#005A0A" stroke="#333a40" stroke-width="1.1"/>
<text x="524.12" y="121.9" font-size="5.9" text-anchor="middle" font-weight="bold" font-style="normal" fill="#151515" style="stroke-width:0.3px">b</text>
<line x1="524.12" y1="168.7" x2="524.12" y2="171" stroke="#333" stroke-width="1"/>
<text x="524.12" y="176.3" font-size="5.4" text-anchor="middle" font-weight="bold" font-style="normal" fill="#111" style="stroke:#111;stroke-width:0.34px">336</text>
<line x1="493.3" y1="182.5" x2="528.1" y2="182.5" stroke="#707070" stroke-width="0.9"/>
<text x="435" y="221.2" font-size="7" text-anchor="middle" font-weight="bold" font-style="normal" fill="#1a1a1a">Hour after vaccination</text>
<text x="300.2" y="240.2" font-size="13.6" text-anchor="start" font-weight="bold" font-style="normal" fill="#000" style="stroke:#000;stroke-width:0.5px">F</text>
<text x="438.3" y="256.8" font-size="8.0" text-anchor="middle" font-weight="bold" fill="#111">28 DAYC -<tspan font-style="italic">CD4</tspan></text>
<line x1="333.4" y1="267.92" x2="333.4" y2="393" stroke="#3a3a3a" stroke-width="1.1"/>
<line x1="330.1" y1="392.5" x2="333.4" y2="392.5" stroke="#3a3a3a" stroke-width="1.1"/>
<text x="328.6" y="394.7" font-size="6.1" text-anchor="end" font-weight="bold" font-style="normal" fill="#222">0</text>
<line x1="330.1" y1="361.48" x2="333.4" y2="361.48" stroke="#3a3a3a" stroke-width="1.1"/>
<text x="328.6" y="363.68" font-size="6.1" text-anchor="end" font-weight="bold" font-style="normal" fill="#222">1</text>
<line x1="330.1" y1="330.46" x2="333.4" y2="330.46" stroke="#3a3a3a" stroke-width="1.1"/>
<text x="328.6" y="332.66" font-size="6.1" text-anchor="end" font-weight="bold" font-style="normal" fill="#222">2</text>
<line x1="330.1" y1="299.44" x2="333.4" y2="299.44" stroke="#3a3a3a" stroke-width="1.1"/>
<text x="328.6" y="301.64" font-size="6.1" text-anchor="end" font-weight="bold" font-style="normal" fill="#222">3</text>
<line x1="330.1" y1="268.42" x2="333.4" y2="268.42" stroke="#3a3a3a" stroke-width="1.1"/>
<text x="328.6" y="270.62" font-size="6.1" text-anchor="end" font-weight="bold" font-style="normal" fill="#222">4</text>
<text transform="translate(313,329.9) rotate(-90)" x="0" y="0" font-size="6.9" text-anchor="middle" font-weight="bold" fill="#1e1e1e">Relative expression ratio of&#160; <tspan font-style="italic">CD4</tspan></text>
<line x1="333.4" y1="392.5" x2="540.2" y2="392.5" stroke="#3a3a3a" stroke-width="1.1"/>
<rect x="340.65" y="362.03" width="12.2" height="30.47" fill="#FFC784" stroke="#333a40" stroke-width="1.1"/>
<text x="346.75" y="358.98" font-size="5.9" text-anchor="middle" font-weight="bold" font-style="normal" fill="#151515" style="stroke-width:0.3px">a</text>
<line x1="346.75" y1="393.1" x2="346.75" y2="395.4" stroke="#333" stroke-width="1"/>
<text x="346.75" y="400.7" font-size="5.4" text-anchor="middle" font-weight="bold" font-style="normal" fill="#111" style="stroke:#111;stroke-width:0.34px">24</text>
<rect x="354.45" y="362.03" width="12.2" height="30.47" fill="#FF8000" stroke="#333a40" stroke-width="1.1"/>
<text x="360.55" y="358.98" font-size="5.9" text-anchor="middle" font-weight="bold" font-style="normal" fill="#151515" style="stroke-width:0.3px">a</text>
<line x1="360.55" y1="393.1" x2="360.55" y2="395.4" stroke="#333" stroke-width="1"/>
<text x="360.55" y="400.7" font-size="5.4" text-anchor="middle" font-weight="bold" font-style="normal" fill="#111" style="stroke:#111;stroke-width:0.34px">168</text>
<rect x="368.25" y="362.03" width="12.2" height="30.47" fill="#B35400" stroke="#333a40" stroke-width="1.1"/>
<text x="374.35" y="358.98" font-size="5.9" text-anchor="middle" font-weight="bold" font-style="normal" fill="#151515" style="stroke-width:0.3px">a</text>
<line x1="374.35" y1="393.1" x2="374.35" y2="395.4" stroke="#333" stroke-width="1"/>
<text x="374.35" y="400.7" font-size="5.4" text-anchor="middle" font-weight="bold" font-style="normal" fill="#111" style="stroke:#111;stroke-width:0.34px">336</text>
<line x1="343.7" y1="406.9" x2="377.5" y2="406.9" stroke="#ababab" stroke-width="1.4"/>
<text x="360.6" y="415.5" font-size="6.3" text-anchor="middle" font-weight="bold" font-style="normal" fill="#222">Control</text>
<line x1="402.02" y1="357.76" x2="402.02" y2="356.21" stroke="#2a2a2a" stroke-width="1.1"/>
<line x1="398.82" y1="356.21" x2="405.22" y2="356.21" stroke="#2a2a2a" stroke-width="1.1"/>
<rect x="395.85" y="358.31" width="12.33" height="34.19" fill="#F98BFF" stroke="#333a40" stroke-width="1.1"/>
<text x="402.02" y="351.41" font-size="5.9" text-anchor="middle" font-weight="bold" font-style="normal" fill="#151515" style="stroke-width:0.3px">a</text>
<line x1="402.02" y1="393.1" x2="402.02" y2="395.4" stroke="#333" stroke-width="1"/>
<text x="402.02" y="400.7" font-size="5.4" text-anchor="middle" font-weight="bold" font-style="normal" fill="#111" style="stroke:#111;stroke-width:0.34px">24</text>
<line x1="415.95" y1="354.66" x2="415.95" y2="350.31" stroke="#2a2a2a" stroke-width="1.1"/>
<line x1="412.75" y1="350.31" x2="419.15" y2="350.31" stroke="#2a2a2a" stroke-width="1.1"/>
<rect x="409.78" y="355.21" width="12.33" height="37.29" fill="#8C0098" stroke="#333a40" stroke-width="1.1"/>
<text x="415.95" y="345.51" font-size="5.9" text-anchor="middle" font-weight="bold" font-style="normal" fill="#151515" style="stroke-width:0.3px">a</text>
<line x1="415.95" y1="393.1" x2="415.95" y2="395.4" stroke="#333" stroke-width="1"/>
<text x="415.95" y="400.7" font-size="5.4" text-anchor="middle" font-weight="bold" font-style="normal" fill="#111" style="stroke:#111;stroke-width:0.34px">168</text>
<line x1="429.88" y1="336.97" x2="429.88" y2="326.43" stroke="#2a2a2a" stroke-width="1.1"/>
<line x1="426.68" y1="326.43" x2="433.08" y2="326.43" stroke="#2a2a2a" stroke-width="1.1"/>
<rect x="423.72" y="337.52" width="12.33" height="54.98" fill="#4B0058" stroke="#333a40" stroke-width="1.1"/>
<text x="429.88" y="321.63" font-size="5.9" text-anchor="middle" font-weight="bold" font-style="normal" fill="#151515" style="stroke-width:0.3px">b</text>
<line x1="429.88" y1="393.1" x2="429.88" y2="395.4" stroke="#333" stroke-width="1"/>
<text x="429.88" y="400.7" font-size="5.4" text-anchor="middle" font-weight="bold" font-style="normal" fill="#111" style="stroke:#111;stroke-width:0.34px">336</text>
<line x1="398.8" y1="406.9" x2="433.2" y2="406.9" stroke="#ababab" stroke-width="1.4"/>
<text x="416.6" y="416.5" font-size="6.3" text-anchor="middle" font-weight="bold" font-style="normal" fill="#222">Treatment</text>
<rect x="450.65" y="362.34" width="12.35" height="30.16" fill="#E8C1A6" stroke="#333a40" stroke-width="1.1"/>
<text x="456.83" y="359.29" font-size="5.9" text-anchor="middle" font-weight="bold" font-style="normal" fill="#151515" style="stroke-width:0.3px">a</text>
<line x1="456.83" y1="393.1" x2="456.83" y2="395.4" stroke="#333" stroke-width="1"/>
<text x="456.83" y="400.7" font-size="5.4" text-anchor="middle" font-weight="bold" font-style="normal" fill="#111" style="stroke:#111;stroke-width:0.34px">C</text>
<line x1="470.77" y1="350" x2="470.77" y2="338.53" stroke="#2a2a2a" stroke-width="1.1"/>
<line x1="467.57" y1="338.53" x2="473.97" y2="338.53" stroke="#2a2a2a" stroke-width="1.1"/>
<rect x="464.6" y="350.55" width="12.35" height="41.95" fill="#C383C6" stroke="#333a40" stroke-width="1.1"/>
<text x="470.77" y="333.73" font-size="5.9" text-anchor="middle" font-weight="bold" font-style="normal" fill="#151515" style="stroke-width:0.3px">b</text>
<line x1="470.77" y1="393.1" x2="470.77" y2="395.4" stroke="#333" stroke-width="1"/>
<text x="470.77" y="400.7" font-size="5.4" text-anchor="middle" font-weight="bold" font-style="normal" fill="#111" style="stroke:#111;stroke-width:0.34px">T</text>
<line x1="455" y1="406.9" x2="475.5" y2="406.9" stroke="#ababab" stroke-width="1.4"/>
<text x="465.25" y="414.7" font-size="6.3" text-anchor="middle" font-weight="bold" font-style="normal" fill="#222">Overall</text>
<text x="465.25" y="421.9" font-size="6.3" text-anchor="middle" font-weight="bold" font-style="normal" fill="#222">vaccination</text>
<line x1="497.92" y1="359.62" x2="497.92" y2="357.45" stroke="#2a2a2a" stroke-width="1.1"/>
<line x1="494.72" y1="357.45" x2="501.12" y2="357.45" stroke="#2a2a2a" stroke-width="1.1"/>
<rect x="491.75" y="360.17" width="12.33" height="32.33" fill="#5CFFA0" stroke="#333a40" stroke-width="1.1"/>
<text x="497.92" y="352.65" font-size="5.9" text-anchor="middle" font-weight="bold" font-style="normal" fill="#151515" style="stroke-width:0.3px">a</text>
<line x1="497.92" y1="393.1" x2="497.92" y2="395.4" stroke="#333" stroke-width="1"/>
<text x="497.92" y="400.7" font-size="5.4" text-anchor="middle" font-weight="bold" font-style="normal" fill="#111" style="stroke:#111;stroke-width:0.34px">24</text>
<line x1="511.85" y1="358.38" x2="511.85" y2="353.41" stroke="#2a2a2a" stroke-width="1.1"/>
<line x1="508.65" y1="353.41" x2="515.05" y2="353.41" stroke="#2a2a2a" stroke-width="1.1"/>
<rect x="505.68" y="358.93" width="12.33" height="33.57" fill="#00C218" stroke="#333a40" stroke-width="1.1"/>
<text x="511.85" y="348.61" font-size="5.9" text-anchor="middle" font-weight="bold" font-style="normal" fill="#151515" style="stroke-width:0.3px">a</text>
<line x1="511.85" y1="393.1" x2="511.85" y2="395.4" stroke="#333" stroke-width="1"/>
<text x="511.85" y="400.7" font-size="5.4" text-anchor="middle" font-weight="bold" font-style="normal" fill="#111" style="stroke:#111;stroke-width:0.34px">168</text>
<line x1="525.78" y1="349.38" x2="525.78" y2="333.56" stroke="#2a2a2a" stroke-width="1.1"/>
<line x1="522.58" y1="333.56" x2="528.98" y2="333.56" stroke="#2a2a2a" stroke-width="1.1"/>
<rect x="519.62" y="349.93" width="12.33" height="42.57" fill="#005A0A" stroke="#333a40" stroke-width="1.1"/>
<text x="525.78" y="328.76" font-size="5.9" text-anchor="middle" font-weight="bold" font-style="normal" fill="#151515" style="stroke-width:0.3px">b</text>
<line x1="525.78" y1="393.1" x2="525.78" y2="395.4" stroke="#333" stroke-width="1"/>
<text x="525.78" y="400.7" font-size="5.4" text-anchor="middle" font-weight="bold" font-style="normal" fill="#111" style="stroke:#111;stroke-width:0.34px">336</text>
<line x1="495.3" y1="406.9" x2="529.7" y2="406.9" stroke="#ababab" stroke-width="1.4"/>
<text x="512.5" y="415.5" font-size="6.3" text-anchor="middle" font-weight="bold" font-style="normal" fill="#222">Overall</text>
<text x="512.5" y="422.5" font-size="6.3" text-anchor="middle" font-weight="bold" font-style="normal" fill="#222">times</text>
<text x="436.8" y="444.8" font-size="7" text-anchor="middle" font-weight="bold" font-style="normal" fill="#1a1a1a">Hour after vaccination</text>
<text x="300.2" y="468.7" font-size="13.6" text-anchor="start" font-weight="bold" font-style="normal" fill="#000" style="stroke:#000;stroke-width:0.5px">G</text>
<text x="438.3" y="489.4" font-size="8.0" text-anchor="middle" font-weight="bold" fill="#111">35 DAYC -<tspan font-style="italic">CD4</tspan></text>
<line x1="333.4" y1="500.52" x2="333.4" y2="625.6" stroke="#3a3a3a" stroke-width="1.1"/>
<line x1="330.1" y1="625.1" x2="333.4" y2="625.1" stroke="#3a3a3a" stroke-width="1.1"/>
<text x="328.6" y="627.3" font-size="6.1" text-anchor="end" font-weight="bold" font-style="normal" fill="#222">0</text>
<line x1="330.1" y1="594.08" x2="333.4" y2="594.08" stroke="#3a3a3a" stroke-width="1.1"/>
<text x="328.6" y="596.28" font-size="6.1" text-anchor="end" font-weight="bold" font-style="normal" fill="#222">1</text>
<line x1="330.1" y1="563.06" x2="333.4" y2="563.06" stroke="#3a3a3a" stroke-width="1.1"/>
<text x="328.6" y="565.26" font-size="6.1" text-anchor="end" font-weight="bold" font-style="normal" fill="#222">2</text>
<line x1="330.1" y1="532.04" x2="333.4" y2="532.04" stroke="#3a3a3a" stroke-width="1.1"/>
<text x="328.6" y="534.24" font-size="6.1" text-anchor="end" font-weight="bold" font-style="normal" fill="#222">3</text>
<line x1="330.1" y1="501.02" x2="333.4" y2="501.02" stroke="#3a3a3a" stroke-width="1.1"/>
<text x="328.6" y="503.22" font-size="6.1" text-anchor="end" font-weight="bold" font-style="normal" fill="#222">4</text>
<text transform="translate(313,562.5) rotate(-90)" x="0" y="0" font-size="6.9" text-anchor="middle" font-weight="bold" fill="#1e1e1e">Relative expression ratio of&#160; <tspan font-style="italic">CD4</tspan></text>
<line x1="333.4" y1="625.1" x2="540.2" y2="625.1" stroke="#3a3a3a" stroke-width="1.1"/>
<rect x="340.65" y="594.63" width="12.2" height="30.47" fill="#FFC784" stroke="#333a40" stroke-width="1.1"/>
<text x="346.75" y="591.58" font-size="5.9" text-anchor="middle" font-weight="bold" font-style="normal" fill="#151515" style="stroke-width:0.3px">a</text>
<line x1="346.75" y1="625.7" x2="346.75" y2="628" stroke="#333" stroke-width="1"/>
<text x="346.75" y="633.3" font-size="5.4" text-anchor="middle" font-weight="bold" font-style="normal" fill="#111" style="stroke:#111;stroke-width:0.34px">24</text>
<rect x="354.45" y="594.63" width="12.2" height="30.47" fill="#FF8000" stroke="#333a40" stroke-width="1.1"/>
<text x="360.55" y="591.58" font-size="5.9" text-anchor="middle" font-weight="bold" font-style="normal" fill="#151515" style="stroke-width:0.3px">a</text>
<line x1="360.55" y1="625.7" x2="360.55" y2="628" stroke="#333" stroke-width="1"/>
<text x="360.55" y="633.3" font-size="5.4" text-anchor="middle" font-weight="bold" font-style="normal" fill="#111" style="stroke:#111;stroke-width:0.34px">168</text>
<rect x="368.25" y="594.63" width="12.2" height="30.47" fill="#B35400" stroke="#333a40" stroke-width="1.1"/>
<text x="374.35" y="591.58" font-size="5.9" text-anchor="middle" font-weight="bold" font-style="normal" fill="#151515" style="stroke-width:0.3px">a</text>
<line x1="374.35" y1="625.7" x2="374.35" y2="628" stroke="#333" stroke-width="1"/>
<text x="374.35" y="633.3" font-size="5.4" text-anchor="middle" font-weight="bold" font-style="normal" fill="#111" style="stroke:#111;stroke-width:0.34px">336</text>
<line x1="343.7" y1="639.5" x2="377.5" y2="639.5" stroke="#707070" stroke-width="0.9"/>
<text x="360.6" y="648.1" font-size="6.3" text-anchor="middle" font-weight="bold" font-style="normal" fill="#222">Control</text>
<line x1="402.02" y1="588.5" x2="402.02" y2="585.39" stroke="#2a2a2a" stroke-width="1.1"/>
<line x1="398.82" y1="585.39" x2="405.22" y2="585.39" stroke="#2a2a2a" stroke-width="1.1"/>
<rect x="395.85" y="589.05" width="12.33" height="36.05" fill="#F98BFF" stroke="#333a40" stroke-width="1.1"/>
<text x="402.02" y="580.59" font-size="5.9" text-anchor="middle" font-weight="bold" font-style="normal" fill="#151515" style="stroke-width:0.3px">a</text>
<line x1="402.02" y1="625.7" x2="402.02" y2="628" stroke="#333" stroke-width="1"/>
<text x="402.02" y="633.3" font-size="5.4" text-anchor="middle" font-weight="bold" font-style="normal" fill="#111" style="stroke:#111;stroke-width:0.34px">24</text>
<line x1="415.95" y1="573.92" x2="415.95" y2="561.51" stroke="#2a2a2a" stroke-width="1.1"/>
<line x1="412.75" y1="561.51" x2="419.15" y2="561.51" stroke="#2a2a2a" stroke-width="1.1"/>
<rect x="409.78" y="574.47" width="12.33" height="50.63" fill="#8C0098" stroke="#333a40" stroke-width="1.1"/>
<text x="415.95" y="556.71" font-size="5.9" text-anchor="middle" font-weight="bold" font-style="normal" fill="#151515" style="stroke-width:0.3px">b</text>
<line x1="415.95" y1="625.7" x2="415.95" y2="628" stroke="#333" stroke-width="1"/>
<text x="415.95" y="633.3" font-size="5.4" text-anchor="middle" font-weight="bold" font-style="normal" fill="#111" style="stroke:#111;stroke-width:0.34px">168</text>
<line x1="429.88" y1="567.71" x2="429.88" y2="555.62" stroke="#2a2a2a" stroke-width="1.1"/>
<line x1="426.68" y1="555.62" x2="433.08" y2="555.62" stroke="#2a2a2a" stroke-width="1.1"/>
<rect x="423.72" y="568.26" width="12.33" height="56.84" fill="#4B0058" stroke="#333a40" stroke-width="1.1"/>
<text x="429.88" y="550.82" font-size="5.9" text-anchor="middle" font-weight="bold" font-style="normal" fill="#151515" style="stroke-width:0.3px">b</text>
<line x1="429.88" y1="625.7" x2="429.88" y2="628" stroke="#333" stroke-width="1"/>
<text x="429.88" y="633.3" font-size="5.4" text-anchor="middle" font-weight="bold" font-style="normal" fill="#111" style="stroke:#111;stroke-width:0.34px">336</text>
<line x1="398.8" y1="639.5" x2="433.2" y2="639.5" stroke="#707070" stroke-width="0.9"/>
<text x="416.6" y="649.1" font-size="6.3" text-anchor="middle" font-weight="bold" font-style="normal" fill="#222">Treatment</text>
<rect x="450.65" y="595.25" width="12.35" height="29.85" fill="#E8C1A6" stroke="#333a40" stroke-width="1.1"/>
<text x="456.83" y="592.2" font-size="5.9" text-anchor="middle" font-weight="bold" font-style="normal" fill="#151515" style="stroke-width:0.3px">a</text>
<line x1="456.83" y1="625.7" x2="456.83" y2="628" stroke="#333" stroke-width="1"/>
<text x="456.83" y="633.3" font-size="5.4" text-anchor="middle" font-weight="bold" font-style="normal" fill="#111" style="stroke:#111;stroke-width:0.34px">C</text>
<line x1="470.77" y1="576.71" x2="470.77" y2="563.68" stroke="#2a2a2a" stroke-width="1.1"/>
<line x1="467.57" y1="563.68" x2="473.97" y2="563.68" stroke="#2a2a2a" stroke-width="1.1"/>
<rect x="464.6" y="577.26" width="12.35" height="47.84" fill="#C383C6" stroke="#333a40" stroke-width="1.1"/>
<text x="470.77" y="558.88" font-size="5.9" text-anchor="middle" font-weight="bold" font-style="normal" fill="#151515" style="stroke-width:0.3px">b</text>
<line x1="470.77" y1="625.7" x2="470.77" y2="628" stroke="#333" stroke-width="1"/>
<text x="470.77" y="633.3" font-size="5.4" text-anchor="middle" font-weight="bold" font-style="normal" fill="#111" style="stroke:#111;stroke-width:0.34px">T</text>
<line x1="455" y1="639.5" x2="475.5" y2="639.5" stroke="#707070" stroke-width="0.9"/>
<text x="465.25" y="647.3" font-size="6.3" text-anchor="middle" font-weight="bold" font-style="normal" fill="#222">Overall</text>
<text x="465.25" y="654.5" font-size="6.3" text-anchor="middle" font-weight="bold" font-style="normal" fill="#222">vaccination</text>
<line x1="497.92" y1="591.6" x2="497.92" y2="587.57" stroke="#2a2a2a" stroke-width="1.1"/>
<line x1="494.72" y1="587.57" x2="501.12" y2="587.57" stroke="#2a2a2a" stroke-width="1.1"/>
<rect x="491.75" y="592.15" width="12.33" height="32.95" fill="#5CFFA0" stroke="#333a40" stroke-width="1.1"/>
<text x="497.92" y="582.77" font-size="5.9" text-anchor="middle" font-weight="bold" font-style="normal" fill="#151515" style="stroke-width:0.3px">a</text>
<line x1="497.92" y1="625.7" x2="497.92" y2="628" stroke="#333" stroke-width="1"/>
<text x="497.92" y="633.3" font-size="5.4" text-anchor="middle" font-weight="bold" font-style="normal" fill="#111" style="stroke:#111;stroke-width:0.34px">24</text>
<line x1="511.85" y1="584.15" x2="511.85" y2="570.19" stroke="#2a2a2a" stroke-width="1.1"/>
<line x1="508.65" y1="570.19" x2="515.05" y2="570.19" stroke="#2a2a2a" stroke-width="1.1"/>
<rect x="505.68" y="584.7" width="12.33" height="40.4" fill="#00C218" stroke="#333a40" stroke-width="1.1"/>
<text x="511.85" y="565.39" font-size="5.9" text-anchor="middle" font-weight="bold" font-style="normal" fill="#151515" style="stroke-width:0.3px">ab</text>
<line x1="511.85" y1="625.7" x2="511.85" y2="628" stroke="#333" stroke-width="1"/>
<text x="511.85" y="633.3" font-size="5.4" text-anchor="middle" font-weight="bold" font-style="normal" fill="#111" style="stroke:#111;stroke-width:0.34px">168</text>
<line x1="525.78" y1="580.74" x2="525.78" y2="563.68" stroke="#2a2a2a" stroke-width="1.1"/>
<line x1="522.58" y1="563.68" x2="528.98" y2="563.68" stroke="#2a2a2a" stroke-width="1.1"/>
<rect x="519.62" y="581.29" width="12.33" height="43.81" fill="#005A0A" stroke="#333a40" stroke-width="1.1"/>
<text x="525.78" y="558.88" font-size="5.9" text-anchor="middle" font-weight="bold" font-style="normal" fill="#151515" style="stroke-width:0.3px">b</text>
<line x1="525.78" y1="625.7" x2="525.78" y2="628" stroke="#333" stroke-width="1"/>
<text x="525.78" y="633.3" font-size="5.4" text-anchor="middle" font-weight="bold" font-style="normal" fill="#111" style="stroke:#111;stroke-width:0.34px">336</text>
<line x1="495.3" y1="639.5" x2="529.7" y2="639.5" stroke="#707070" stroke-width="0.9"/>
<text x="512.5" y="648.1" font-size="6.3" text-anchor="middle" font-weight="bold" font-style="normal" fill="#222">Overall</text>
<text x="512.5" y="655.1" font-size="6.3" text-anchor="middle" font-weight="bold" font-style="normal" fill="#222">times</text>
<text x="436.8" y="677.5" font-size="7" text-anchor="middle" font-weight="bold" font-style="normal" fill="#1a1a1a">Hour after vaccination</text>
<text x="300.2" y="698.4" font-size="13.6" text-anchor="start" font-weight="bold" font-style="normal" fill="#000" style="stroke:#000;stroke-width:0.5px">H</text>
<text x="438.3" y="714.4" font-size="8.0" text-anchor="middle" font-weight="bold" fill="#111">42 DAYC -<tspan font-style="italic">CD4</tspan></text>
<line x1="333.4" y1="725.92" x2="333.4" y2="851" stroke="#3a3a3a" stroke-width="1.1"/>
<line x1="330.1" y1="850.5" x2="333.4" y2="850.5" stroke="#3a3a3a" stroke-width="1.1"/>
<text x="328.6" y="852.7" font-size="6.1" text-anchor="end" font-weight="bold" font-style="normal" fill="#222">0</text>
<line x1="330.1" y1="819.48" x2="333.4" y2="819.48" stroke="#3a3a3a" stroke-width="1.1"/>
<text x="328.6" y="821.68" font-size="6.1" text-anchor="end" font-weight="bold" font-style="normal" fill="#222">1</text>
<line x1="330.1" y1="788.46" x2="333.4" y2="788.46" stroke="#3a3a3a" stroke-width="1.1"/>
<text x="328.6" y="790.66" font-size="6.1" text-anchor="end" font-weight="bold" font-style="normal" fill="#222">2</text>
<line x1="330.1" y1="757.44" x2="333.4" y2="757.44" stroke="#3a3a3a" stroke-width="1.1"/>
<text x="328.6" y="759.64" font-size="6.1" text-anchor="end" font-weight="bold" font-style="normal" fill="#222">3</text>
<line x1="330.1" y1="726.42" x2="333.4" y2="726.42" stroke="#3a3a3a" stroke-width="1.1"/>
<text x="328.6" y="728.62" font-size="6.1" text-anchor="end" font-weight="bold" font-style="normal" fill="#222">4</text>
<text transform="translate(313,787.9) rotate(-90)" x="0" y="0" font-size="6.9" text-anchor="middle" font-weight="bold" fill="#1e1e1e">Relative expression ratio of&#160; <tspan font-style="italic">CD4</tspan></text>
<line x1="333.4" y1="850.5" x2="540.2" y2="850.5" stroke="#3a3a3a" stroke-width="1.1"/>
<rect x="340.65" y="820.03" width="12.2" height="30.47" fill="#FFC784" stroke="#333a40" stroke-width="1.1"/>
<text x="346.75" y="816.98" font-size="5.9" text-anchor="middle" font-weight="bold" font-style="normal" fill="#151515" style="stroke-width:0.3px">a</text>
<line x1="346.75" y1="851.1" x2="346.75" y2="853.4" stroke="#333" stroke-width="1"/>
<text x="346.75" y="858.7" font-size="5.4" text-anchor="middle" font-weight="bold" font-style="normal" fill="#111" style="stroke:#111;stroke-width:0.34px">24</text>
<rect x="354.45" y="820.03" width="12.2" height="30.47" fill="#FF8000" stroke="#333a40" stroke-width="1.1"/>
<text x="360.55" y="816.98" font-size="5.9" text-anchor="middle" font-weight="bold" font-style="normal" fill="#151515" style="stroke-width:0.3px">a</text>
<line x1="360.55" y1="851.1" x2="360.55" y2="853.4" stroke="#333" stroke-width="1"/>
<text x="360.55" y="858.7" font-size="5.4" text-anchor="middle" font-weight="bold" font-style="normal" fill="#111" style="stroke:#111;stroke-width:0.34px">168</text>
<rect x="368.25" y="820.03" width="12.2" height="30.47" fill="#B35400" stroke="#333a40" stroke-width="1.1"/>
<text x="374.35" y="816.98" font-size="5.9" text-anchor="middle" font-weight="bold" font-style="normal" fill="#151515" style="stroke-width:0.3px">a</text>
<line x1="374.35" y1="851.1" x2="374.35" y2="853.4" stroke="#333" stroke-width="1"/>
<text x="374.35" y="858.7" font-size="5.4" text-anchor="middle" font-weight="bold" font-style="normal" fill="#111" style="stroke:#111;stroke-width:0.34px">336</text>
<line x1="343.7" y1="864.9" x2="377.5" y2="864.9" stroke="#707070" stroke-width="0.9"/>
<text x="360.6" y="873.5" font-size="6.3" text-anchor="middle" font-weight="bold" font-style="normal" fill="#222">Control</text>
<line x1="402.02" y1="811.41" x2="402.02" y2="806.14" stroke="#2a2a2a" stroke-width="1.1"/>
<line x1="398.82" y1="806.14" x2="405.22" y2="806.14" stroke="#2a2a2a" stroke-width="1.1"/>
<rect x="395.85" y="811.96" width="12.33" height="38.54" fill="#F98BFF" stroke="#333a40" stroke-width="1.1"/>
<text x="402.02" y="801.34" font-size="5.9" text-anchor="middle" font-weight="bold" font-style="normal" fill="#151515" style="stroke-width:0.3px">a</text>
<line x1="402.02" y1="851.1" x2="402.02" y2="853.4" stroke="#333" stroke-width="1"/>
<text x="402.02" y="858.7" font-size="5.4" text-anchor="middle" font-weight="bold" font-style="normal" fill="#111" style="stroke:#111;stroke-width:0.34px">24</text>
<line x1="415.95" y1="786.6" x2="415.95" y2="776.98" stroke="#2a2a2a" stroke-width="1.1"/>
<line x1="412.75" y1="776.98" x2="419.15" y2="776.98" stroke="#2a2a2a" stroke-width="1.1"/>
<rect x="409.78" y="787.15" width="12.33" height="63.35" fill="#8C0098" stroke="#333a40" stroke-width="1.1"/>
<text x="415.95" y="772.18" font-size="5.9" text-anchor="middle" font-weight="bold" font-style="normal" fill="#151515" style="stroke-width:0.3px">b</text>
<line x1="415.95" y1="851.1" x2="415.95" y2="853.4" stroke="#333" stroke-width="1"/>
<text x="415.95" y="858.7" font-size="5.4" text-anchor="middle" font-weight="bold" font-style="normal" fill="#111" style="stroke:#111;stroke-width:0.34px">168</text>
<line x1="429.88" y1="785.98" x2="429.88" y2="770.16" stroke="#2a2a2a" stroke-width="1.1"/>
<line x1="426.68" y1="770.16" x2="433.08" y2="770.16" stroke="#2a2a2a" stroke-width="1.1"/>
<rect x="423.72" y="786.53" width="12.33" height="63.97" fill="#4B0058" stroke="#333a40" stroke-width="1.1"/>
<text x="429.88" y="765.36" font-size="5.9" text-anchor="middle" font-weight="bold" font-style="normal" fill="#151515" style="stroke-width:0.3px">b</text>
<line x1="429.88" y1="851.1" x2="429.88" y2="853.4" stroke="#333" stroke-width="1"/>
<text x="429.88" y="858.7" font-size="5.4" text-anchor="middle" font-weight="bold" font-style="normal" fill="#111" style="stroke:#111;stroke-width:0.34px">336</text>
<line x1="398.8" y1="864.9" x2="433.2" y2="864.9" stroke="#707070" stroke-width="0.9"/>
<text x="416.6" y="874.5" font-size="6.3" text-anchor="middle" font-weight="bold" font-style="normal" fill="#222">Treatment</text>
<rect x="450.65" y="820.65" width="12.35" height="29.85" fill="#E8C1A6" stroke="#333a40" stroke-width="1.1"/>
<text x="456.83" y="817.6" font-size="5.9" text-anchor="middle" font-weight="bold" font-style="normal" fill="#151515" style="stroke-width:0.3px">a</text>
<line x1="456.83" y1="851.1" x2="456.83" y2="853.4" stroke="#333" stroke-width="1"/>
<text x="456.83" y="858.7" font-size="5.4" text-anchor="middle" font-weight="bold" font-style="normal" fill="#111" style="stroke:#111;stroke-width:0.34px">C</text>
<line x1="470.77" y1="794.35" x2="470.77" y2="778.53" stroke="#2a2a2a" stroke-width="1.1"/>
<line x1="467.57" y1="778.53" x2="473.97" y2="778.53" stroke="#2a2a2a" stroke-width="1.1"/>
<rect x="464.6" y="794.9" width="12.35" height="55.6" fill="#C383C6" stroke="#333a40" stroke-width="1.1"/>
<text x="470.77" y="773.73" font-size="5.9" text-anchor="middle" font-weight="bold" font-style="normal" fill="#151515" style="stroke-width:0.3px">b</text>
<line x1="470.77" y1="851.1" x2="470.77" y2="853.4" stroke="#333" stroke-width="1"/>
<text x="470.77" y="858.7" font-size="5.4" text-anchor="middle" font-weight="bold" font-style="normal" fill="#111" style="stroke:#111;stroke-width:0.34px">T</text>
<line x1="455" y1="864.9" x2="475.5" y2="864.9" stroke="#707070" stroke-width="0.9"/>
<text x="465.25" y="872.7" font-size="6.3" text-anchor="middle" font-weight="bold" font-style="normal" fill="#222">Overall</text>
<text x="465.25" y="879.9" font-size="6.3" text-anchor="middle" font-weight="bold" font-style="normal" fill="#222">vaccination</text>
<line x1="497.92" y1="815.45" x2="497.92" y2="809.55" stroke="#2a2a2a" stroke-width="1.1"/>
<line x1="494.72" y1="809.55" x2="501.12" y2="809.55" stroke="#2a2a2a" stroke-width="1.1"/>
<rect x="491.75" y="816" width="12.33" height="34.5" fill="#5CFFA0" stroke="#333a40" stroke-width="1.1"/>
<text x="497.92" y="804.75" font-size="5.9" text-anchor="middle" font-weight="bold" font-style="normal" fill="#151515" style="stroke-width:0.3px">a</text>
<line x1="497.92" y1="851.1" x2="497.92" y2="853.4" stroke="#333" stroke-width="1"/>
<text x="497.92" y="858.7" font-size="5.4" text-anchor="middle" font-weight="bold" font-style="normal" fill="#111" style="stroke:#111;stroke-width:0.34px">24</text>
<line x1="511.85" y1="802.73" x2="511.85" y2="783.19" stroke="#2a2a2a" stroke-width="1.1"/>
<line x1="508.65" y1="783.19" x2="515.05" y2="783.19" stroke="#2a2a2a" stroke-width="1.1"/>
<rect x="505.68" y="803.28" width="12.33" height="47.22" fill="#00C218" stroke="#333a40" stroke-width="1.1"/>
<text x="511.85" y="778.39" font-size="5.9" text-anchor="middle" font-weight="bold" font-style="normal" fill="#151515" style="stroke-width:0.3px">b</text>
<line x1="511.85" y1="851.1" x2="511.85" y2="853.4" stroke="#333" stroke-width="1"/>
<text x="511.85" y="858.7" font-size="5.4" text-anchor="middle" font-weight="bold" font-style="normal" fill="#111" style="stroke:#111;stroke-width:0.34px">168</text>
<line x1="525.78" y1="802.73" x2="525.78" y2="781.33" stroke="#2a2a2a" stroke-width="1.1"/>
<line x1="522.58" y1="781.33" x2="528.98" y2="781.33" stroke="#2a2a2a" stroke-width="1.1"/>
<rect x="519.62" y="803.28" width="12.33" height="47.22" fill="#005A0A" stroke="#333a40" stroke-width="1.1"/>
<text x="525.78" y="776.53" font-size="5.9" text-anchor="middle" font-weight="bold" font-style="normal" fill="#151515" style="stroke-width:0.3px">b</text>
<line x1="525.78" y1="851.1" x2="525.78" y2="853.4" stroke="#333" stroke-width="1"/>
<text x="525.78" y="858.7" font-size="5.4" text-anchor="middle" font-weight="bold" font-style="normal" fill="#111" style="stroke:#111;stroke-width:0.34px">336</text>
<line x1="495.3" y1="864.9" x2="529.7" y2="864.9" stroke="#707070" stroke-width="0.9"/>
<text x="512.5" y="873.5" font-size="6.3" text-anchor="middle" font-weight="bold" font-style="normal" fill="#222">Overall</text>
<text x="512.5" y="880.5" font-size="6.3" text-anchor="middle" font-weight="bold" font-style="normal" fill="#222">times</text>
<text x="436.8" y="903.4" font-size="7" text-anchor="middle" font-weight="bold" font-style="normal" fill="#1a1a1a">Hour after vaccination</text>
</svg>
</body></html>
